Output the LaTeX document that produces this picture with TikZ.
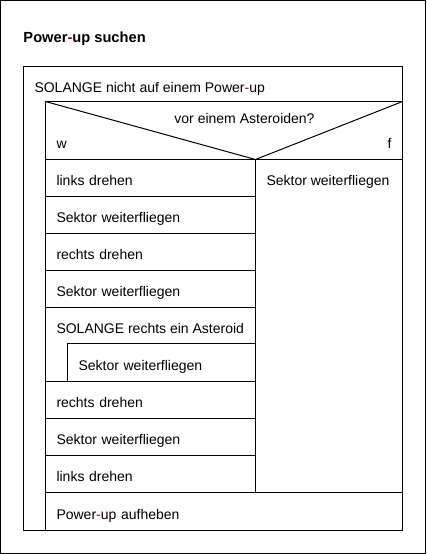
\documentclass[tikz,border=0pt]{standalone}
\usepackage{fontspec}
\setmainfont{Liberation Sans}
\usepackage{xcolor}
\usepackage{tikz}
\usetikzlibrary{positioning}

\newdimen\pxu \pxu=0.75pt
\definecolor{hyph}{RGB}{140,0,0}
\newcommand{\pwr}{Power{\color{hyph}-}up}

\begin{document}
\begin{tikzpicture}[
    x=0.75pt, y=-0.75pt,
    line width=0.75pt,
    node distance=0pt,
    txt/.style={inner sep=0pt, outer sep=0pt, font=\fontsize{10.5}{12}\selectfont},
    head/.style={txt, text height=15\pxu, text depth=0pt, anchor=north west},
    blk/.style={rectangle, draw, anchor=north west, minimum height=37\pxu, text width=188\pxu,
        inner xsep=11\pxu, inner ysep=0pt, outer sep=0pt, align=left,
        text height=15\pxu, text depth=0pt, font=\fontsize{10.5}{12}\selectfont},
    frame/.style={rectangle, draw, anchor=north west, inner sep=0pt, outer sep=0pt}
]
    \useasboundingbox (0,0) rectangle (426,554);
    \draw (0.5,0.5) rectangle (425.5,553.5);

    \begin{scope}[shift={(0.5,0.5)}]
    \node[txt, anchor=base west, font=\fontsize{11}{13}\selectfont\bfseries] (title) at (23,42) {\pwr\ suchen};

    % outer loop
    \node[frame, minimum width=379\pxu, minimum height=464\pxu] (loop) at (23,66) {};
    \node[head, below right=11\pxu and 11\pxu of loop.north west] (loophead) {SOLANGE nicht auf einem \pwr};

    % decision
    \node[frame, minimum width=357\pxu, minimum height=58\pxu] (cond) at (45,101) {};
    \coordinate (split) at (255,159);
    \draw (cond.north west) -- (split) -- (cond.north east);
    \node[txt, anchor=base] (question) at (244,123) {vor einem Asteroiden?};
    \node[txt, anchor=base west] (yes) at (56,148) {w};
    \node[txt, anchor=base east] (no) at (391,148) {f};

    % true branch
    \node[blk] (s1) at (split -| cond.west) {links drehen};
    \node[blk, below=of s1] (s2) {Sektor weiterfliegen};
    \node[blk, below=of s2] (s3) {rechts drehen};
    \node[blk, below=of s3] (s4) {Sektor weiterfliegen};
    \node[blk, below=of s4, minimum height=74\pxu] (inner) {};
    \node[head, below right=11\pxu and 11\pxu of inner.north west] (innerhead) {SOLANGE rechts ein Asteroid};
    \node[blk, anchor=south east, text width=166\pxu, minimum height=38\pxu] (body) at (inner.south east) {Sektor weiterfliegen};
    \node[blk, below=of inner] (s6) {rechts drehen};
    \node[blk, below=of s6] (s7) {Sektor weiterfliegen};
    \node[blk, below=of s7] (s8) {links drehen};

    % false branch
    \node[frame, minimum width=147\pxu, minimum height=333\pxu] (fbranch) at (split) {};
    \node[head, below right=11\pxu and 11\pxu of fbranch.north west] (fstep) {Sektor weiterfliegen};

    % after decision
    \node[blk, text width=335\pxu, minimum height=38\pxu] (pick) at (s8.south west) {\pwr\ aufheben};
    \end{scope}
\end{tikzpicture}
\end{document}
